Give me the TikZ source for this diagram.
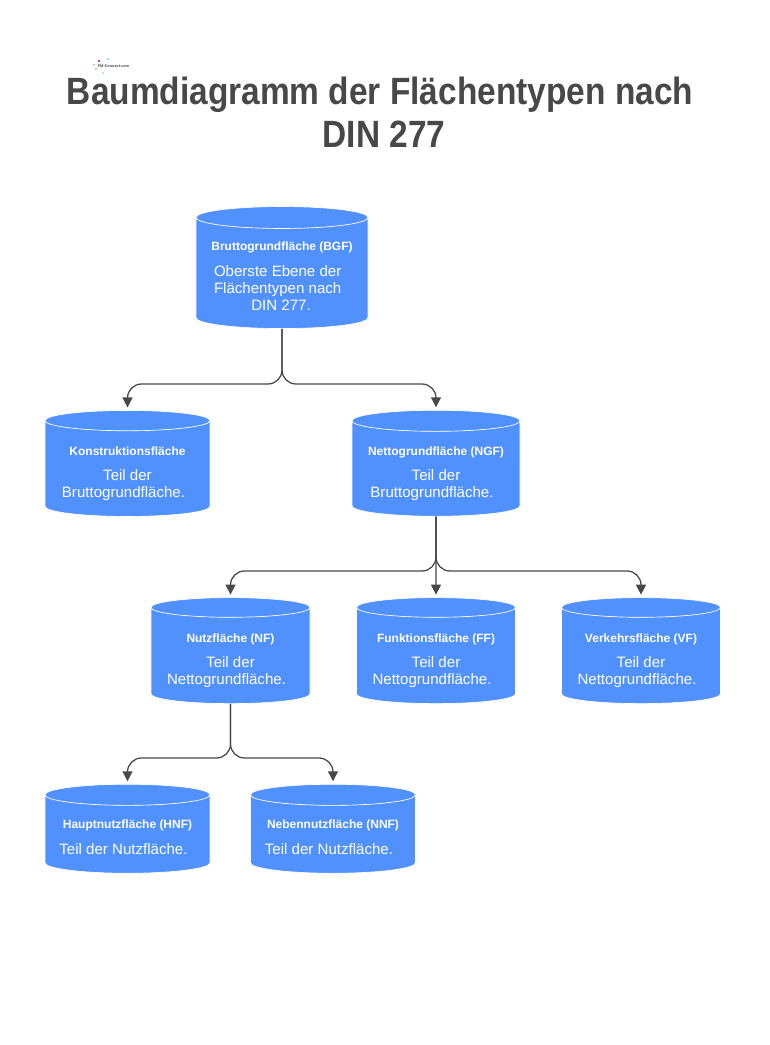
\documentclass[tikz,border=0pt]{standalone}
\usepackage{fontspec}
\setmainfont{Liberation Sans}
\newfontfamily\titlefont[FakeStretch=0.88]{Liberation Sans}
\usetikzlibrary{shapes.geometric,arrows.meta}
\definecolor{boxblue}{HTML}{5091FF}
\definecolor{inkgray}{HTML}{484848}
\newcommand{\boxhead}[2][11.5]{\rule{0pt}{#1pt}{\fontsize{9pt}{11pt}\selectfont\bfseries #2}\\[6.5pt]}
\newcommand{\boxline}[2][6]{#2\hspace*{#1pt}}
\newcommand{\boxflush}[2]{\makebox[106pt][l]{\hspace*{#1pt}#2}}
\tikzset{
  dbbox/.style 2 args={cylinder, shape border rotate=90, aspect=0.155, draw=white, line width=0.5pt,
    cylinder uses custom fill, cylinder body fill=boxblue, cylinder end fill=boxblue,
    minimum width=#1*0.75pt, minimum height=#2*0.75pt, inner sep=0pt, text=white, align=center,
    font=\fontsize{11.3pt}{12.8pt}\selectfont},
  conn/.style={draw=inkgray, line width=0.95pt, rounded corners=10.5pt, -{Triangle[length=7.5pt,width=7.5pt]}, shorten >=2pt},
}
\begin{document}
\begin{tikzpicture}[x=0.75pt, y=-0.75pt]
  \useasboundingbox (0,0) rectangle (769,1045);

  % logo
  \fill[violet!70] (99,61) circle (1.4);
  \fill[cyan!60] (108,59) circle (1.2);
  \fill[orange!70] (96,69) circle (1.2);
  \fill[cyan!40] (103,73) circle (1.2);
  \fill[violet!40] (94,65) circle (1);
  \node[inner sep=0pt, text=inkgray, font=\fontsize{2.9pt}{3.4pt}\selectfont\bfseries] (logo) at (113.5,66) {FM-Connect.com};

  % title
  \node[inner sep=0pt, text=inkgray, align=center, font=\titlefont\fontsize{28.5pt}{32.4pt}\selectfont\bfseries] (title) at (380,112)
    {Baumdiagramm der Flächentypen nach\\\hspace*{6pt}DIN 277};

  % boxes
  \node[dbbox={172}{122}] (bgf) at (282,273.2) {\boxhead[10.5]{Bruttogrundfläche (BGF)}\boxflush{2}{Oberste Ebene der}\\\boxflush{2}{Flächentypen nach}\\\boxflush{30}{DIN 277.}};
  \node[dbbox={165}{106}] (kf) at (127.5,468.7) {\boxhead[14]{Konstruktionsfläche}\boxline{Teil der}\\\boxline{Bruttogrundfläche.}};
  \node[dbbox={168}{106}] (ngf) at (436,468.7) {\boxhead[14]{Nettogrundfläche (NGF)}\boxline{Teil der}\\\boxline{Bruttogrundfläche.}};
  \node[dbbox={159}{106}] (nf) at (230.5,655.7) {\boxhead[14]{Nutzfläche (NF)}\boxline{Teil der}\\\boxline{Nettogrundfläche.}};
  \node[dbbox={159}{106}] (ff) at (436,655.7) {\boxhead[14]{Funktionsfläche (FF)}\boxline{Teil der}\\\boxline{Nettogrundfläche.}};
  \node[dbbox={159}{106}] (vf) at (641,655.7) {\boxhead[14]{Verkehrsfläche (VF)}\boxline{Teil der}\\\boxline{Nettogrundfläche.}};
  \node[dbbox={165}{89}] (hnf) at (127.5,834.2) {\boxhead{Hauptnutzfläche (HNF)}\boxline{Teil der Nutzfläche.}};
  \node[dbbox={165}{89}] (nnf) at (333,834.2) {\boxhead{Nebennutzfläche (NNF)}\boxline{Teil der Nutzfläche.}};

  % connectors
  \coordinate (fork1) at (282,384);
  \coordinate (fork2) at (436,571);
  \coordinate (fork3) at (230.5,758);
  \draw[conn] (bgf.south) -- (fork1) -| (kf.north);
  \draw[conn] (bgf.south) -- (fork1) -| (ngf.north);
  \draw[conn] (ngf.south) -- (fork2) -| (nf.north);
  \draw[conn] (ngf.south) -- (ff.north);
  \draw[conn] (ngf.south) -- (fork2) -| (vf.north);
  \draw[conn] (nf.south) -- (fork3) -| (hnf.north);
  \draw[conn] (nf.south) -- (fork3) -| (nnf.north);
\end{tikzpicture}
\end{document}
